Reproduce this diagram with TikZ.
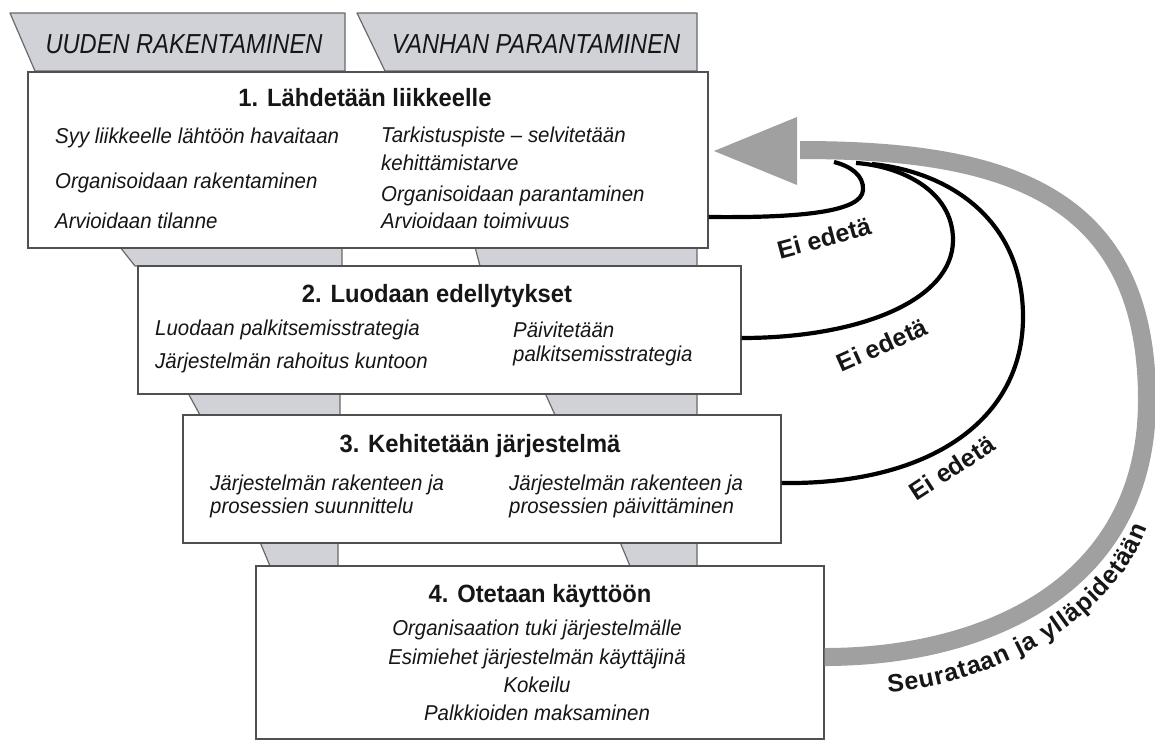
\documentclass[tikz,border=0pt]{standalone}
\usepackage{fontspec}
\setmainfont[FakeStretch=0.95]{Liberation Sans}
\newfontfamily\tabfont[FakeStretch=0.86]{Liberation Sans}
\newfontfamily\loopfont{Liberation Sans}
\usetikzlibrary{decorations.text}

\definecolor{ink}{RGB}{22,22,22}
\definecolor{bandfill}{RGB}{208,210,215}
\definecolor{bandedge}{RGB}{105,105,105}
\definecolor{boxedge}{RGB}{80,80,80}
\definecolor{loopgray}{RGB}{160,160,160}

\begin{document}
\begin{tikzpicture}[x=1pt,y=-1pt,
  colband/.style={fill=bandfill, draw=bandedge, line width=1.2pt, line join=round},
  stage/.style={draw=boxedge, line width=1.6pt, fill=white, inner sep=0pt, anchor=north west},
  heading/.style={font=\bfseries\fontsize{25}{28}\selectfont, text=ink, inner sep=0pt, anchor=base},
  leftitem/.style={font=\itshape\fontsize{21.5}{24}\selectfont, text=ink, inner sep=0pt, anchor=base west},
  midtitem/.style={font=\itshape\fontsize{21.5}{24}\selectfont, text=ink, inner sep=0pt, anchor=base},
  tabtext/.style={font=\tabfont\itshape\fontsize{27.5}{29}\selectfont, text=ink, inner sep=0pt, anchor=base},
  noloop/.style={draw=black, line width=4.2pt},
  loopband/.style={draw=loopgray, line width=18pt},
  eilabel/.style={font=\loopfont\bfseries\fontsize{25}{28}\selectfont, text=ink, inner sep=0pt},
]
\fill[white] (0,0) rectangle (1155,742);
\useasboundingbox (0,0) rectangle (1155,742);

% column ribbons behind the stages
\draw[colband] (10,13) -- (345,13) -- (345,71) -- (35,71) -- cycle;
\draw[colband] (357,13) -- (697,13) -- (697,71) -- (385,71) -- cycle;
\node[tabtext] (tabnew) at (184,53) {UUDEN RAKENTAMINEN};
\node[tabtext] (tabold) at (536,53) {VANHAN PARANTAMINEN};

\draw[colband] (120,247) -- (342,247) -- (342,266) -- (135,266) -- cycle;
\draw[colband] (475,247) -- (697,247) -- (697,266) -- (480,266) -- cycle;
\draw[colband] (188,393) -- (340,393) -- (340,415) -- (200,415) -- cycle;
\draw[colband] (545,393) -- (697,393) -- (697,415) -- (555,415) -- cycle;
\draw[colband] (260,542) -- (338,542) -- (338,566) -- (270,566) -- cycle;
\draw[colband] (620,542) -- (697,542) -- (697,566) -- (630,566) -- cycle;

% stages
\node[stage, minimum width=680pt, minimum height=176pt] (b1) at (27,71) {};
\node[stage, minimum width=603pt, minimum height=128pt] (b2) at (137,265) {};
\node[stage, minimum width=598pt, minimum height=128pt] (b3) at (182,414) {};
\node[stage, minimum width=568pt, minimum height=173pt] (b4) at (255,565) {};

% stage 1
\node[heading] (h1) at (365,106) {1. Lähdetään liikkeelle};
\node[leftitem] (a11) at (55,143) {Syy liikkeelle lähtöön havaitaan};
\node[leftitem] (a12) at (55,188) {Organisoidaan rakentaminen};
\node[leftitem] (a13) at (55,228) {Arvioidaan tilanne};
\node[leftitem] (r11) at (381,142) {Tarkistuspiste – selvitetään};
\node[leftitem] (r12) at (381,170) {kehittämistarve};
\node[leftitem] (r13) at (381,201) {Organisoidaan parantaminen};
\node[leftitem] (r14) at (381,228) {Arvioidaan toimivuus};

% stage 2
\node[heading] (h2) at (437,302) {2. Luodaan edellytykset};
\node[leftitem] (a21) at (155,335) {Luodaan palkitsemisstrategia};
\node[leftitem] (a22) at (155,368) {Järjestelmän rahoitus kuntoon};
\node[leftitem] (r21) at (513,337) {Päivitetään};
\node[leftitem] (r22) at (513,361) {palkitsemisstrategia};

% stage 3
\node[heading] (h3) at (480,452) {3. Kehitetään järjestelmä};
\node[leftitem] (a31) at (210,490) {Järjestelmän rakenteen ja};
\node[leftitem] (a32) at (210,513) {prosessien suunnittelu};
\node[leftitem] (r31) at (509,490) {Järjestelmän rakenteen ja};
\node[leftitem] (r32) at (509,513) {prosessien päivittäminen};

% stage 4
\node[heading] (h4) at (540,602) {4. Otetaan käyttöön};
\node[midtitem] (c41) at (537,635) {Organisaation tuki järjestelmälle};
\node[midtitem] (c42) at (537,664) {Esimiehet järjestelmän käyttäjinä};
\node[midtitem] (c43) at (537,692) {Kokeilu};
\node[midtitem] (c44) at (537,720) {Palkkioiden maksaminen};

% return loops
\coordinate (loopend1) at (834,162);
\coordinate (loopend2) at (856,163);
\coordinate (loopend3) at (872,164);
\draw[noloop] (b1.north east) ++(0,146) .. controls (800,218) and (862,212) .. (863,190)
  .. controls (864,175) and (850,166) .. (loopend1);
\draw[noloop] (b2.north east) ++(0,73) .. controls (860,338) and (953,300) .. (953,240)
  .. controls (953,190) and (900,166) .. (loopend2);
\draw[noloop] (b3.north east) ++(0,69) .. controls (930,485) and (1023,420) .. (1023,317)
  .. controls (1023,220) and (950,172) .. (loopend3);

% follow-up arrow back to the start
\coordinate (arrowbase) at (800,150);
\draw[loopband] (b4.north east) ++(0,92) .. controls (980,657) and (1147,590) .. (1147,400)
  .. controls (1147,190) and (1000,150) .. (arrowbase);
\fill[loopgray] (797,117) -- (714,151) -- (797,185) -- cycle;

\node[eilabel, rotate=15] (ei1) at (824,238) {Ei edetä};
\node[eilabel, rotate=24] (ei2) at (882,345) {Ei edetä};
\node[eilabel, rotate=33] (ei3) at (952,468) {Ei edetä};

% label set along the outside of the follow-up arrow
\path[decorate, decoration={text along path,
    text={|\loopfont\bfseries\fontsize{25}{28}\selectfont\color{ink}|Seurataan ja ylläpidetään},
    text align=fit to path}]
  (888,692) .. controls (985,686) and (1112,625) .. (1147,528);
\end{tikzpicture}
\end{document}
